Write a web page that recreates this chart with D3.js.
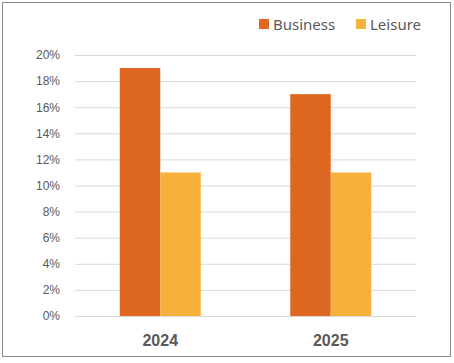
<!DOCTYPE html>
<html>
<head>
<meta charset="utf-8">
<script src="https://cdn.jsdelivr.net/npm/d3@7"></script>
<style>
  body { margin: 0; background: #fff; }
  svg { display: block; font-family: "Noto Sans", "Open Sans", sans-serif; }
</style>
</head>
<body>
<script>
// chart data
var years = ["2024", "2025"];
var seriesNames = ["Business", "Leisure"];
var business = [0.19, 0.17];
var leisure = [0.11, 0.11];
var yTicks = [0, 0.02, 0.04, 0.06, 0.08, 0.10, 0.12, 0.14, 0.16, 0.18, 0.20];

var colors = {Business: "#DD6721", Leisure: "#F8B03C"};

// set the dimensions and margins of the graph
var margin = {top: 55, right: 38, bottom: 47, left: 75},
    width = 454 - margin.left - margin.right,
    height = 363 - margin.top - margin.bottom;

var svg = d3.select("body").append("svg")
    .attr("width", 454)
    .attr("height", 363);

// outer frame
svg.append("rect")
    .attr("x", 2.5).attr("y", 2.5)
    .attr("width", 448).attr("height", 354)
    .attr("fill", "#fff")
    .attr("stroke", "#8a8a8a")
    .attr("stroke-width", 1);

var g = svg.append("g")
    .attr("transform", "translate(" + margin.left + "," + margin.top + ")");

// scales
var x = d3.scaleBand().domain(years).range([0, width])
    .paddingInner(0.525).paddingOuter(0.2625);
var x1 = d3.scaleBand().domain(seriesNames).range([0, x.bandwidth()]);
var y = d3.scaleLinear().domain([0, 0.20]).range([height, 0]);

// gridlines + y labels
var yAxis = g.append("g")
    .call(d3.axisLeft(y).tickValues(yTicks).tickSize(-width).tickPadding(15)
      .tickFormat(d3.format(".0%")));
yAxis.select(".domain").remove();
yAxis.selectAll(".tick line").attr("stroke", "#d9d9d9").attr("stroke-width", 1);
yAxis.selectAll(".tick text")
    .attr("fill", "#595959")
    .style("font-size", "12px");

// bars
var rows = years.map(function(d, i) {
  return {year: d, values: [{key: "Business", v: business[i]}, {key: "Leisure", v: leisure[i]}]};
});

g.selectAll(".grp")
    .data(rows)
  .enter().append("g")
    .attr("class", "grp")
    .attr("transform", function(d) { return "translate(" + x(d.year) + ",0)"; })
  .selectAll("rect")
    .data(function(d) { return d.values; })
  .enter().append("rect")
    .attr("x", function(d) { return x1(d.key); })
    .attr("width", x1.bandwidth())
    .attr("y", function(d) { return y(d.v); })
    .attr("height", function(d) { return height - y(d.v); })
    .attr("fill", function(d) { return colors[d.key]; });

// x axis labels
var xAxis = g.append("g")
    .attr("transform", "translate(0," + height + ")")
    .call(d3.axisBottom(x).tickSize(0).tickPadding(19));
xAxis.select(".domain").remove();
xAxis.selectAll(".tick text")
    .attr("fill", "#595959")
    .style("font-size", "16px")
    .style("font-weight", "bold");

// legend
var legendX = [259, 356];
var legend = svg.selectAll(".legend")
    .data(seriesNames)
  .enter().append("g")
    .attr("class", "legend")
    .attr("transform", function(d, i) { return "translate(" + legendX[i] + ",19)"; });

legend.append("rect")
    .attr("width", 10).attr("height", 10)
    .attr("fill", function(d) { return colors[d]; });

legend.append("text")
    .attr("x", 14)
    .attr("y", 11)
    .attr("fill", "#595959")
    .style("font-size", "15px")
    .text(function(d) { return d; });
</script>
</body>
</html>
